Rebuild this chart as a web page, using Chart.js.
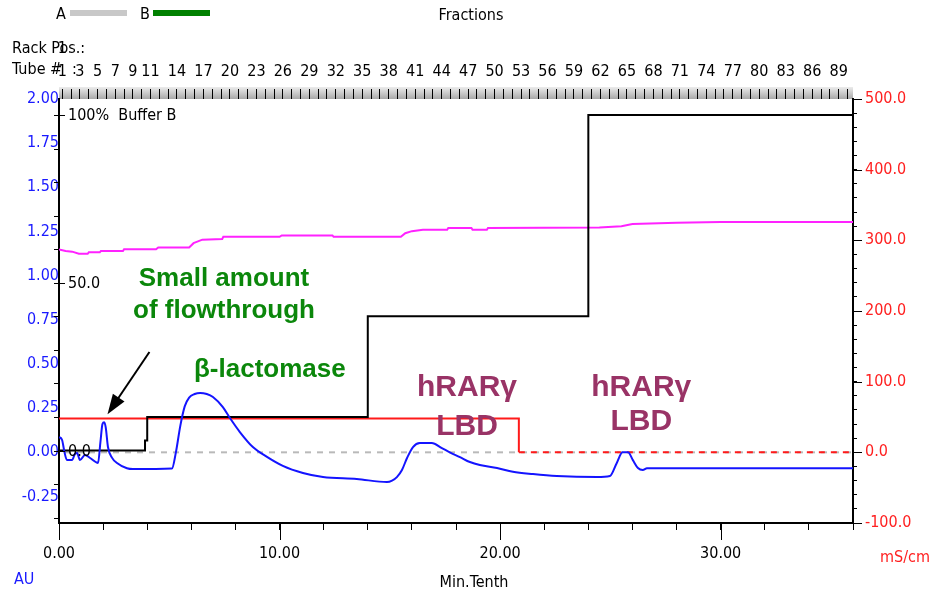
<!DOCTYPE html>
<html>
<head>
<meta charset="utf-8">
<script src="https://cdn.jsdelivr.net/npm/chart.js@4.4.1/dist/chart.umd.min.js"></script>
<style>
  html, body { margin: 0; padding: 0; background: #fff; }
  canvas { display: block; }
</style>
</head>
<body>
<canvas id="chromatogram" width="940" height="600"></canvas>
<script>
"use strict";

// UV trace, AU (left axis)
const uvTime = [0, 0.14, 0.25, 0.36, 0.59, 0.72, 0.82, 0.95, 1.18, 1.41, 1.77, 1.88, 1.97, 2.05, 2.12, 2.22, 2.4, 2.63, 3.08, 3.35,
  5.12, 5.3, 5.5, 5.7, 5.9, 6.15, 6.4, 6.7, 6.98, 7.43, 7.75, 8.2, 8.79, 9.43, 10.15, 11.06, 11.97, 13.5, 14.87, 15.1,
  15.32, 15.55, 15.78, 16.05, 16.36, 16.9, 17.36, 17.72, 18.18, 18.63, 19.08, 19.86, 20.58, 21.49, 22.57, 24.39, 24.98, 25.29, 25.55, 25.8,
  26.02, 26.25, 26.47, 26.66, 36];
const uvAbs = [0.087, 0.07, 0.0, -0.044, -0.044, -0.01, -0.004, -0.044, -0.015, -0.032, -0.06, 0.06, 0.16, 0.17, 0.14, 0.03, -0.03, -0.06, -0.09, -0.095,
  -0.092, 0.0, 0.15, 0.26, 0.31, 0.33, 0.336, 0.33, 0.313, 0.256, 0.194, 0.115, 0.03, -0.026, -0.077, -0.117, -0.14, -0.151, -0.168, -0.16,
  -0.14, -0.1, -0.032, 0.03, 0.053, 0.053, 0.024, 0.0, -0.027, -0.055, -0.072, -0.089, -0.11, -0.123, -0.134, -0.14, -0.134, -0.06, 0.0, 0.0,
  -0.044, -0.089, -0.1, -0.09, -0.09];

// magenta trace (right axis)
const pinkTime = [0, 0.3, 0.6, 0.9, 1.3, 1.35, 1.85, 1.9, 2.9, 2.95, 4.4, 4.5, 5.9, 6.1, 6.5, 7.4, 7.45, 10.0, 10.1, 12.4,
  12.45, 15.5, 15.7, 16.0, 16.5, 17.6, 17.65, 18.7, 18.75, 19.4, 19.45, 24.5, 25.5, 26, 28, 30, 36];
const pinkValue = [287, 285, 284, 281, 281, 283, 283, 285, 285, 287.5, 287.5, 290, 290, 296, 301, 302, 305, 305, 307, 307,
  305, 305, 310, 313, 315, 315, 317.5, 317.5, 315, 315, 317.5, 318, 320, 323, 325, 326, 326];

// conductivity, mS/cm (right axis)
const condTime = [0, 20.85, 20.85, 36];
const condValue = [48, 48, 0, 0];

// % buffer B program
const bufTime = [0, 3.9, 3.9, 4.0, 4.0, 14, 14, 24, 24, 36];
const bufPct = [0, 0, 3, 3, 10, 10, 40, 40, 100, 100];
const bufMarks = [0, 50, 100];
const bufMarkText = ["0.0", "50.0", "100%  Buffer B"];

// fraction collector
const tubeCount = 90;
const tubeStart = 0.15;   // min
const tubeSize = 0.4;     // min per tube
const tubeLabels = [1, 3, 5, 7, 9, 11, 14, 17, 20, 23, 26, 29, 32, 35, 38, 41, 44, 47, 50, 53, 56, 59, 62, 65, 68, 71, 74, 77, 80, 83, 86, 89];

// axis ticks
const timeTicks = [0, 10, 20, 30];
const auTicks = [-0.25, 0, 0.25, 0.5, 0.75, 1.0, 1.25, 1.5, 1.75, 2.0];
const condTicks = [-100, 0, 100, 200, 300, 400, 500];

// annotations (x = min, v = right axis value)
const GREEN = "#0b870b", MAROON = "#993366";
const notes = [
  { text: "Small amount", t: 7.48, v: 245, color: GREEN, size: 26 },
  { text: "of flowthrough", t: 7.48, v: 200, color: GREEN, size: 26 },
  { text: "β-lactomase", t: 9.56, v: 117, color: GREEN, size: 26 },
  { text: "hRARγ", t: 18.5, v: 91, color: MAROON, size: 30 },
  { text: "LBD", t: 18.5, v: 36, color: MAROON, size: 30 },
  { text: "hRARγ", t: 26.4, v: 91, color: MAROON, size: 30 },
  { text: "LBD", t: 26.4, v: 43, color: MAROON, size: 30 }
];

function hasFont(name) {
  const c = document.createElement("canvas").getContext("2d");
  c.font = "20px monospace";
  const a = c.measureText("0123456789 Rack Pos").width;
  c.font = `20px "${name}", monospace`;
  return c.measureText("0123456789 Rack Pos").width !== a;
}
const NARROW = hasFont("Liberation Sans Narrow");
const TICK_FAMILY = NARROW ? "'Liberation Sans Narrow'" : "'DejaVu Sans Condensed'";
const TICK_SIZE = NARROW ? 20 : 16;
const tickFont = { family: TICK_FAMILY, size: TICK_SIZE };
const cssFont = (size, bold) => `${bold ? "bold " : ""}${size}px ${TICK_FAMILY}`;

const pts = (xs, ys) => xs.map((x, i) => ({ x, y: ys[i] }));

const decor = {
  id: "decor",
  beforeDraw(chart) {
    const { ctx, chartArea: a } = chart;
    ctx.save();
    ctx.fillStyle = "#fff";
    ctx.fillRect(0, 0, chart.width, chart.height);
    // fraction band
    const g = ctx.createLinearGradient(0, a.top - 12, 0, a.top);
    g.addColorStop(0, "#ececec");
    g.addColorStop(1, "#a9a9a9");
    ctx.fillStyle = g;
    ctx.fillRect(a.left, a.top - 12, a.right - a.left, 12);
    ctx.restore();
  },
  afterDraw(chart) {
    const { ctx, chartArea: a, scales } = chart;
    const x = scales.x, yR = scales.yR, yB = scales.yB;
    ctx.save();
    ctx.strokeStyle = "#000";
    ctx.lineWidth = 1;
    // longer major ticks
    timeTicks.forEach(t => {
      const p = Math.round(x.getPixelForValue(t)) + 0.5;
      ctx.beginPath(); ctx.moveTo(p, a.bottom); ctx.lineTo(p, a.bottom + 17); ctx.stroke();
    });
    condTicks.forEach(v => {
      const p = Math.round(yR.getPixelForValue(v)) + 0.5;
      ctx.beginPath(); ctx.moveTo(a.right, p); ctx.lineTo(a.right + 9, p); ctx.stroke();
    });
    // % buffer B ticks on the left axis
    for (let p = -20; p <= 100; p += 10) {
      const py = Math.round(yB.getPixelForValue(p)) + 0.5;
      const long = bufMarks.includes(p);
      ctx.beginPath(); ctx.moveTo(a.left - 5, py); ctx.lineTo(a.left + (long ? 6 : 0), py); ctx.stroke();
    }
    ctx.fillStyle = "#000";
    ctx.font = cssFont(TICK_SIZE);
    ctx.textBaseline = "middle";
    ctx.textAlign = "left";
    bufMarks.forEach((p, i) => ctx.fillText(bufMarkText[i], a.left + 9, yB.getPixelForValue(p) + 1));

    // header
    ctx.fillText("A", 56, 15);
    ctx.fillText("B", 140, 15);
    ctx.fillStyle = "#c8c8c8"; ctx.fillRect(70, 10, 57, 6);
    ctx.fillStyle = "#008000"; ctx.fillRect(153, 10, 57, 6);
    ctx.fillStyle = "#000";
    ctx.textAlign = "center";
    ctx.fillText("Fractions", 471, 16);
    ctx.textAlign = "left";
    ctx.fillText("Rack Pos.:", 12, 49);
    ctx.fillText("Tube #", 12, 70);
    ctx.fillText(":", 72, 70);
    ctx.textAlign = "center";
    ctx.fillText("1", scales.xt.getPixelForValue(tubeStart), 49);

    // axis titles
    ctx.fillText("Min.Tenth", 474, 583);
    ctx.fillStyle = "#1a1aff";
    ctx.textAlign = "left";
    ctx.fillText("AU", 14, 580);
    ctx.fillStyle = "#ff2020";
    ctx.fillText("mS/cm", 880, 558);

    // annotations
    notes.forEach(n => {
      ctx.fillStyle = n.color;
      ctx.font = `bold ${n.size}px 'Liberation Sans', Arial, sans-serif`;
      ctx.textAlign = "center";
      ctx.fillText(n.text, x.getPixelForValue(n.t), yR.getPixelForValue(n.v));
    });

    // arrow to the flowthrough peak
    const x0 = x.getPixelForValue(4.1), y0 = yR.getPixelForValue(142);
    const x1 = x.getPixelForValue(2.2), y1 = yR.getPixelForValue(54);
    const ang = Math.atan2(y1 - y0, x1 - x0);
    ctx.strokeStyle = "#000";
    ctx.lineWidth = 2;
    ctx.beginPath(); ctx.moveTo(x0, y0);
    ctx.lineTo(x1 - 14 * Math.cos(ang), y1 - 14 * Math.sin(ang)); ctx.stroke();
    ctx.fillStyle = "#000";
    ctx.beginPath();
    ctx.moveTo(x1, y1);
    ctx.lineTo(x1 - 20 * Math.cos(ang) + 7 * Math.sin(ang), y1 - 20 * Math.sin(ang) - 7 * Math.cos(ang));
    ctx.lineTo(x1 - 20 * Math.cos(ang) - 7 * Math.sin(ang), y1 - 20 * Math.sin(ang) + 7 * Math.cos(ang));
    ctx.closePath(); ctx.fill();
    ctx.restore();
  }
};

const line = { pointRadius: 0, borderWidth: 2, tension: 0, fill: false };

new Chart(document.getElementById("chromatogram"), {
  type: "line",
  data: {
    datasets: [
      { ...line, label: "UV", data: pts(uvTime, uvAbs), yAxisID: "y", borderColor: "#1414ff", cubicInterpolationMode: "monotone" },
      { ...line, label: "% Buffer B", data: pts(bufTime, bufPct), yAxisID: "yB", borderColor: "#000" },
      {
        ...line, label: "Conductivity", data: pts(condTime, condValue), yAxisID: "yR", borderColor: "#ff1a1a",
        segment: { borderDash: c => (c.p0.parsed.y === 0 && c.p1.parsed.y === 0 ? [6, 6] : undefined) }
      },
      { ...line, label: "Pink", data: pts(pinkTime, pinkValue), yAxisID: "yR", borderColor: "#ff22ff" },
      { ...line, label: "Zero", data: pts([0, 36], [0, 0]), yAxisID: "y", borderColor: "#b9b9b9", borderDash: [6, 6], borderDashOffset: 6 }
    ]
  },
  options: {
    responsive: false,
    animation: false,
    devicePixelRatio: 1,
    layout: { padding: 0 },
    plugins: { legend: { display: false }, tooltip: { enabled: false } },
    scales: {
      x: {
        type: "linear", position: "bottom", min: 0, max: 36,
        afterBuildTicks: s => { s.ticks = Array.from({ length: 19 }, (_, i) => ({ value: i * 2 })); },
        afterFit: s => { s.height = 77; },
        ticks: {
          autoSkip: false, maxRotation: 0, color: "#000", font: tickFont, padding: 14,
          callback: v => (timeTicks.includes(v) ? v.toFixed(2) : "")
        },
        grid: { drawOnChartArea: false, tickLength: 7, tickColor: "#000" },
        border: { color: "#000", width: 2 }
      },
      xt: {
        type: "linear", position: "top", min: 0, max: 36,
        afterBuildTicks: s => {
          s.ticks = Array.from({ length: tubeCount }, (_, i) => ({ value: tubeStart + i * tubeSize }));
        },
        afterFit: s => { s.height = 99; },
        ticks: {
          autoSkip: false, maxRotation: 0, color: "#000", font: tickFont, padding: 8,
          callback: (v, i) => (tubeLabels.includes(i + 1) ? String(i + 1) : "")
        },
        grid: { drawOnChartArea: false, tickLength: 10, tickColor: "#000" },
        border: { display: false }
      },
      y: {
        type: "linear", position: "left", min: -0.4, max: 2.0,
        afterBuildTicks: s => { s.ticks = auTicks.map(v => ({ value: v })); },
        afterFit: s => { s.width = 59; },
        ticks: { color: "#1a1aff", font: tickFont, padding: 0, callback: v => v.toFixed(2) },
        grid: { drawOnChartArea: false, drawTicks: false },
        border: { color: "#000", width: 2 }
      },
      yR: {
        type: "linear", position: "right", min: -100, max: 500,
        afterBuildTicks: s => { s.ticks = Array.from({ length: 31 }, (_, i) => ({ value: -100 + i * 20 })); },
        afterFit: s => { s.width = 87; },
        ticks: {
          autoSkip: false, color: "#ff2020", font: tickFont, padding: 8,
          callback: v => (condTicks.includes(v) ? v.toFixed(1) : "")
        },
        grid: { drawOnChartArea: false, tickLength: 4, tickColor: "#000" },
        border: { color: "#000", width: 2 }
      },
      yB: { type: "linear", display: false, min: -21.6, max: 104.8 }
    }
  },
  plugins: [decor]
});
</script>
</body>
</html>
